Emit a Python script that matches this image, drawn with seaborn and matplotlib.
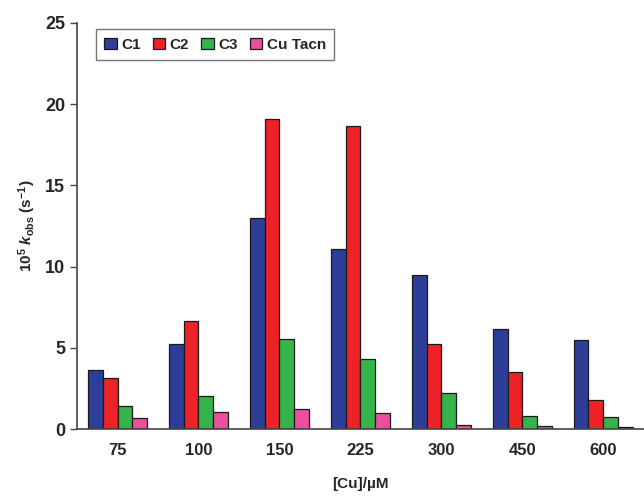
import numpy as np
import pandas as pd
import matplotlib
matplotlib.use('Agg')
import matplotlib.pyplot as plt
import seaborn as sns

concentrations = ['75', '100', '150', '225', '300', '450', '600']
series = ['C1', 'C2', 'C3', 'Cu Tacn']
c1 = [3.62, 5.23, 13.0, 11.05, 9.47, 6.18, 5.47]
c2 = [3.14, 6.67, 19.1, 18.65, 5.23, 3.48, 1.79]
c3 = [1.43, 2.05, 5.52, 4.32, 2.21, 0.81, 0.72]
cu_tacn = [0.70, 1.05, 1.22, 0.98, 0.25, 0.18, 0.12]
colors = ['#2E3E98', '#EC2227', '#34B44A', '#EC4E9C']

rows = []
for name, vals in zip(series, [c1, c2, c3, cu_tacn]):
    for conc, v in zip(concentrations, vals):
        rows.append({'conc': conc, 'series': name, 'kobs': v})
data = pd.DataFrame(rows)

sns.set_theme(style='white')
plt.rcParams['font.family'] = ['Liberation Sans', 'DejaVu Sans']
plt.rcParams['font.weight'] = 'bold'
plt.rcParams['mathtext.fontset'] = 'custom'
plt.rcParams['mathtext.rm'] = 'Liberation Sans:bold'
plt.rcParams['mathtext.it'] = 'Liberation Sans:bold:italic'
plt.rcParams['mathtext.bf'] = 'Liberation Sans:bold'

fig = plt.figure(figsize=(6.44, 4.96), dpi=100)
ax = fig.add_axes([0.1196, 0.135, 0.88, 0.819])

sns.barplot(data=data, x='conc', y='kobs', hue='series', order=concentrations,
            hue_order=series, palette=colors, width=0.73, gap=0,
            edgecolor='#1a1a1a', linewidth=0.9, saturation=1, ax=ax)

ax.set_xlim(-0.5, 6.5)
ax.set_ylim(0, 25)
ax.set_yticks([0, 5, 10, 15, 20, 25])
ax.set_xticks(range(len(concentrations)))
ax.set_xticklabels(concentrations)
ax.set_xticks(np.arange(0.5, 6, 1), minor=True)
ax.tick_params(axis='x', which='major', length=0, pad=10, labelsize=12)
ax.tick_params(axis='x', which='minor', length=5, width=1, color='#444444', direction='out')
ax.tick_params(axis='y', length=5, width=1, color='#444444', direction='out', labelsize=13, left=True)
for lab in ax.get_xticklabels() + ax.get_yticklabels():
    lab.set_fontweight('bold')

for s in ['top', 'right']:
    ax.spines[s].set_visible(False)
for s in ['left', 'bottom']:
    ax.spines[s].set_color('#444444')
    ax.spines[s].set_linewidth(1.2)

ax.set_xlabel('[Cu]/µM', fontweight='bold', fontsize=11, labelpad=14)
ax.set_ylabel(r'10$^{5}$ $k_{\mathrm{obs}}$ (s$^{-1}$)', fontweight='bold', fontsize=11, labelpad=5)

leg = ax.legend(ncol=4, loc='upper left', bbox_to_anchor=(0.02, 1.003), frameon=True,
                fancybox=False, edgecolor='#555555', fontsize=11, handlelength=0.8,
                handleheight=0.8, handletextpad=0.3, columnspacing=0.8, borderpad=0.55)
leg.get_frame().set_linewidth(1.0)
for t in leg.get_texts():
    t.set_fontweight('bold')

fig.savefig('out.png', dpi=100)
